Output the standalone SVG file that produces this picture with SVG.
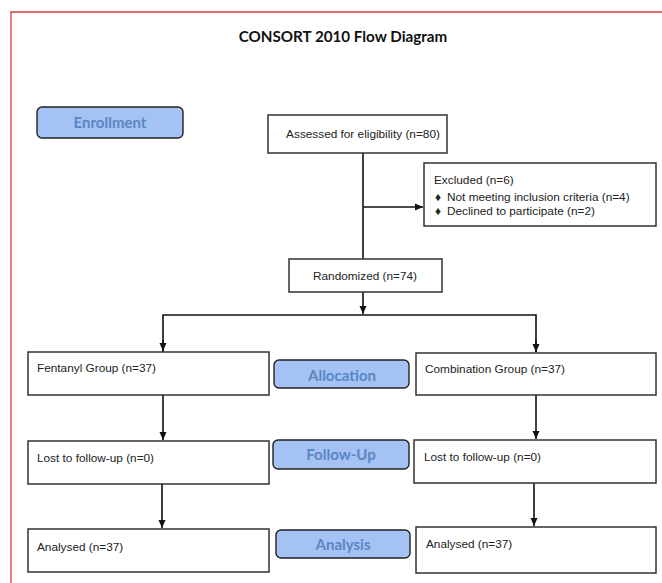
<svg xmlns="http://www.w3.org/2000/svg" width="662" height="583" viewBox="0 0 662 583">
<style>
.box{fill:#fff;stroke:#333;stroke-width:1.5}
.stage{fill:#a4c2f4;stroke:#222;stroke-width:1.4}
.t{font-family:"Liberation Sans",Arial,sans-serif;font-size:11.8px;fill:#222}
.st{font-family:Lato,"Open Sans",sans-serif;font-weight:bold;font-size:15px;fill:#5b86c2;text-anchor:middle}
.title{font-family:Lato,"Open Sans",sans-serif;font-weight:bold;font-size:15.2px;fill:#111;text-anchor:middle}
.c{fill:none;stroke:#111;stroke-width:1.6}
</style>
<defs>
<marker id="ah" viewBox="0 0 8 8" refX="8" refY="4" markerWidth="8" markerHeight="8" markerUnits="userSpaceOnUse" orient="auto">
<path d="M0,0.5 L8,4 L0,7.5 Z" fill="#111"/>
</marker>
</defs>
<rect width="662" height="583" fill="#fff"/>
<path d="M11,583 V12 H662" fill="none" stroke="#d83a3a" stroke-width="1.3"/>
<text class="title" x="343" y="42">CONSORT 2010 Flow Diagram</text>

<g id="connectors">
<path class="c" d="M363,153 V259"/>
<path class="c" d="M363,207 H423" marker-end="url(#ah)"/>
<path class="c" d="M363,292 V314" marker-end="url(#ah)"/>
<path class="c" d="M163,352 V315 H536 V352"/>
<path class="c" d="M163,340 V351" marker-end="url(#ah)"/>
<path class="c" d="M536,340 V352" marker-end="url(#ah)"/>
<path class="c" d="M163,395 V440" marker-end="url(#ah)"/>
<path class="c" d="M536,395 V439" marker-end="url(#ah)"/>
<path class="c" d="M162,484 V528" marker-end="url(#ah)"/>
<path class="c" d="M534,483 V526" marker-end="url(#ah)"/>
</g>

<g id="enrollment">
<rect class="stage" x="37" y="107" width="146" height="31" rx="5"/>
<text class="st" x="110" y="128">Enrollment</text>
</g>
<g id="assessed">
<rect class="box" x="268" y="115" width="179" height="38"/>
<text class="t" x="363" y="138" text-anchor="middle">Assessed for eligibility (n=80)</text>
</g>
<g id="excluded">
<rect class="box" x="424" y="163" width="232" height="63"/>
<text class="t" x="434" y="184">Excluded (n=6)</text>
<text class="t" x="435" y="201" font-size="9">♦</text>
<text class="t" x="447" y="201">Not meeting inclusion criteria (n=4)</text>
<text class="t" x="435" y="215" font-size="9">♦</text>
<text class="t" x="447" y="215">Declined to participate (n=2)</text>
</g>
<g id="randomized">
<rect class="box" x="289" y="259" width="153" height="33"/>
<text class="t" x="365" y="280" text-anchor="middle">Randomized (n=74)</text>
</g>
<g id="fentanyl">
<rect class="box" x="28" y="352" width="241" height="43"/>
<text class="t" x="37" y="372">Fentanyl Group (n=37)</text>
</g>
<g id="allocation">
<rect class="stage" x="274" y="360" width="135" height="28" rx="5"/>
<text class="st" x="342" y="381">Allocation</text>
</g>
<g id="combination">
<rect class="box" x="416" y="353" width="240" height="42"/>
<text class="t" x="425" y="373">Combination Group (n=37)</text>
</g>
<g id="lost-left">
<rect class="box" x="28" y="441" width="241" height="43"/>
<text class="t" x="37" y="462">Lost to follow-up (n=0)</text>
</g>
<g id="followup">
<rect class="stage" x="273" y="440" width="136" height="29" rx="5"/>
<text class="st" x="341" y="460">Follow-Up</text>
</g>
<g id="lost-right">
<rect class="box" x="414" y="440" width="242" height="43"/>
<text class="t" x="424" y="461">Lost to follow-up (n=0)</text>
</g>
<g id="analysed-left">
<rect class="box" x="28" y="529" width="241" height="43"/>
<text class="t" x="37" y="551">Analysed (n=37)</text>
</g>
<g id="analysis">
<rect class="stage" x="276" y="530" width="134" height="28" rx="5"/>
<text class="st" x="343" y="550">Analysis</text>
</g>
<g id="analysed-right">
<rect class="box" x="416" y="527" width="240" height="46"/>
<text class="t" x="426" y="548">Analysed (n=37)</text>
</g>
</svg>
